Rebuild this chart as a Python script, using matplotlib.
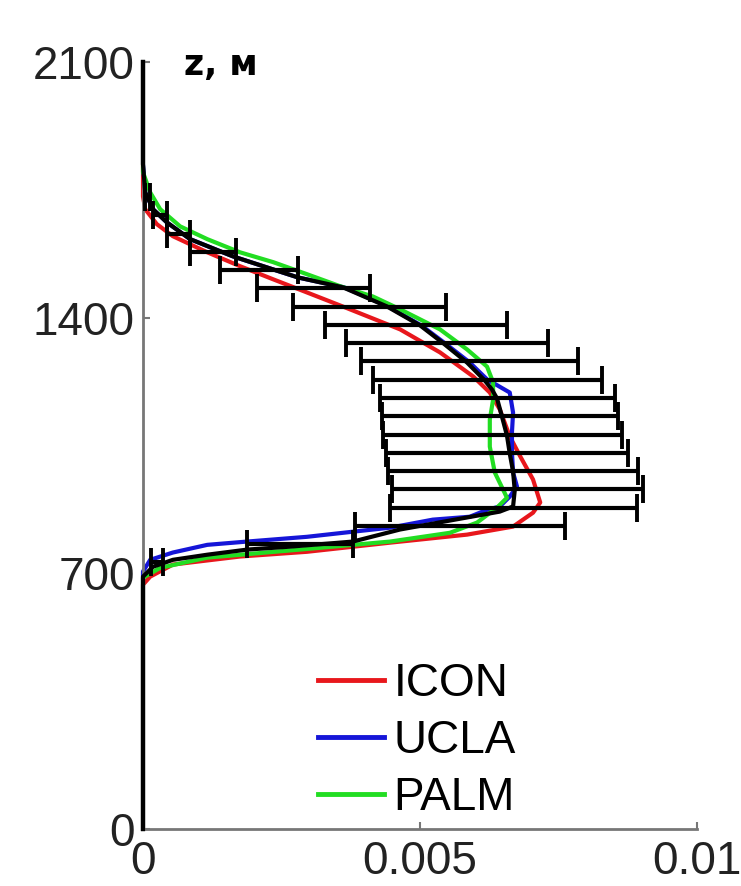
import numpy as np
import matplotlib
matplotlib.use("Agg")
import matplotlib.pyplot as plt

# vertical profiles, z in m, values in units of 1e-3
icon_z = [0, 669, 691, 724, 746, 759, 784, 806, 828, 866, 894, 957, 1020, 1075, 1149, 1195,
          1239, 1305, 1368, 1428, 1469, 1505, 1541, 1579, 1623, 1656, 1697, 1732, 2100]
icon_x = [0, 0, 0.13, 0.54, 1.75, 2.96, 4.46, 5.85, 6.68, 7.04, 7.17, 7.04, 6.81, 6.62, 6.44, 6.26,
          5.96, 5.36, 4.64, 3.65, 2.96, 2.35, 1.75, 1.16, 0.54, 0.25, 0.04, 0, 0]

ucla_z = [0, 705, 737, 757, 778, 787, 800, 814, 825, 847, 855, 874, 883, 910, 938, 976, 1031,
          1086, 1140, 1195, 1231, 1277, 1330, 1379, 1431, 1483, 1510, 1532, 1568, 1615, 1661,
          1697, 1743, 1820, 2100]
ucla_x = [0, 0, 0.13, 0.54, 1.16, 1.88, 2.96, 3.79, 4.46, 5.23, 5.90, 6.21, 6.44, 6.62, 6.75,
          6.68, 6.66, 6.66, 6.68, 6.62, 6.21, 5.90, 5.45, 5.02, 4.42, 3.63, 2.80, 2.35, 1.62,
          0.85, 0.43, 0.18, 0.04, 0, 0]

palm_z = [0, 688, 715, 743, 765, 787, 811, 839, 880, 907, 929, 976, 1047, 1121, 1176, 1223,
          1266, 1313, 1368, 1423, 1458, 1486, 1519, 1552, 1579, 1615, 1650, 1697, 1743, 1798, 2100]
palm_x = [0, 0, 0.31, 1.16, 2.83, 4.46, 5.54, 6.03, 6.39, 6.57, 6.50, 6.35, 6.26, 6.26, 6.32,
          6.32, 6.21, 5.85, 5.36, 4.64, 4.15, 3.56, 2.96, 2.35, 1.75, 1.16, 0.67, 0.31, 0.13, 0, 0]

mean_z = [0, 691, 718, 737, 751, 765, 773, 787, 820, 853, 869, 883, 927, 979, 1028, 1077, 1129,
          1179, 1203, 1228, 1277, 1330, 1379, 1431, 1483, 1510, 1532, 1568, 1615, 1661, 1697,
          1743, 1820, 2100]
mean_x = [0, 0, 0.18, 0.54, 1.16, 1.88, 2.65, 3.79, 4.64, 5.85, 6.44, 6.68, 6.71, 6.68, 6.62,
          6.57, 6.48, 6.39, 6.30, 6.17, 5.85, 5.42, 5.00, 4.40, 3.61, 2.80, 2.35, 1.62, 0.85,
          0.43, 0.18, 0.04, 0, 0]

# error bars (left / right ends)
err_z = [730, 780, 830, 880, 930, 980, 1030, 1080, 1130, 1180, 1230, 1280, 1330, 1380, 1430,
         1480, 1530, 1580, 1630, 1680, 1730]
err_lo = [0.14, 1.88, 3.83, 4.46, 4.49, 4.42, 4.39, 4.33, 4.31, 4.28, 4.15, 3.94, 3.66, 3.29,
          2.71, 2.06, 1.39, 0.85, 0.43, 0.18, 0.04]
err_hi = [0.36, 3.79, 7.62, 8.92, 9.03, 8.94, 8.75, 8.65, 8.57, 8.52, 8.29, 7.85, 7.31, 6.57,
          5.47, 4.10, 2.80, 1.68, 0.85, 0.43, 0.13]

xticks = [0, 0.005, 0.01]
xticklabels = ["0", "0.005", "0.01"]
yticks = [0, 700, 1400, 2100]

sc = 1e-3
fig = plt.figure(figsize=(7.41, 8.86), dpi=100)
ax = fig.add_axes([143 / 741, 1 - 829 / 886, 554 / 741, 767 / 886])

lw = 3
ax.plot(np.array(icon_x) * sc, icon_z, color="#e8171c", lw=lw, label="ICON", clip_on=False, zorder=2)
ax.plot(np.array(ucla_x) * sc, ucla_z, color="#1515d8", lw=lw, label="UCLA", clip_on=False, zorder=2)
ax.plot(np.array(palm_x) * sc, palm_z, color="#22dd22", lw=lw, label="PALM", clip_on=False, zorder=2)
ax.plot(np.array(mean_x) * sc, mean_z, color="black", lw=lw, clip_on=False, zorder=3)

lo = np.array(err_lo) * sc
hi = np.array(err_hi) * sc
ax.errorbar((lo + hi) / 2, err_z, xerr=(hi - lo) / 2, fmt="none", ecolor="black",
            elinewidth=3, capsize=10, capthick=2.8, zorder=4)

ax.set_xlim(0, 0.01)
ax.set_ylim(0, 2100)
ax.set_xticks(xticks)
ax.set_xticklabels(xticklabels)
ax.set_yticks(yticks)
for s in ["top", "right"]:
    ax.spines[s].set_visible(False)
for s in ["left", "bottom"]:
    ax.spines[s].set_color("#777777")
    ax.spines[s].set_linewidth(2)
ax.tick_params(direction="in", length=5, width=1.5, color="#777777",
               labelsize=33, pad=6)
ax.tick_params(axis="x", pad=8)
for t in ax.get_xticklabels() + ax.get_yticklabels():
    t.set_family(["Liberation Sans", "DejaVu Sans"])
    t.set_color("#222222")

fig.text(184 / 741, 1 - 75 / 886, "z, м", fontsize=25, fontweight="bold",
         family=["DejaVu Sans"], va="baseline", ha="left")

leg = ax.legend(loc="upper left", bbox_to_anchor=(318 / 741, 1 - 662 / 886),
                bbox_transform=fig.transFigure, frameon=False, borderpad=0,
                borderaxespad=0, handlelength=1.45, handletextpad=0.2, labelspacing=0.28,
                prop={"family": ["Liberation Sans", "DejaVu Sans"], "size": 33})
for line in leg.get_lines():
    line.set_linewidth(3.5)

fig.savefig("out.png", dpi=100)
